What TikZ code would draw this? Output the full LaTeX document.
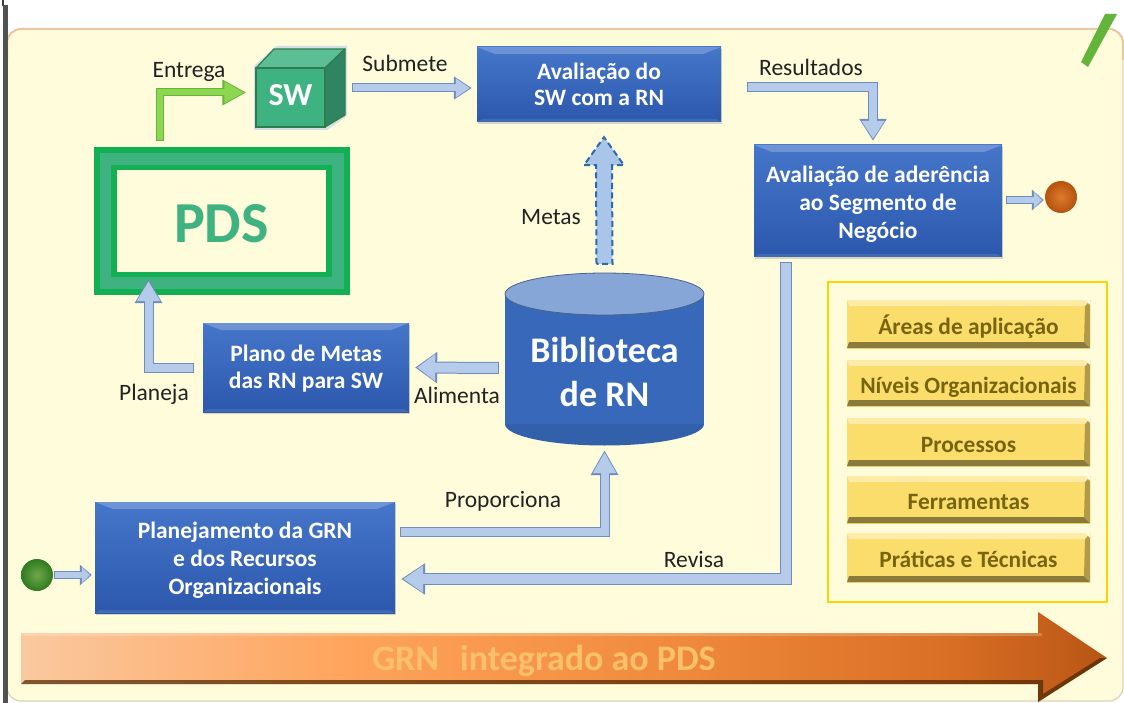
\documentclass[tikz,border=0pt]{standalone}
\usepackage{fontspec}
\setmainfont{Carlito}
\usetikzlibrary{arrows.meta,shadows,calc}
\definecolor{bgpale}{HTML}{FEFCDA}
\definecolor{bgedge}{HTML}{EBC6A0}
\definecolor{bgside}{HTML}{DCD3B0}
\definecolor{arrowfill}{HTML}{B6CBEA}
\definecolor{arrowedge}{HTML}{6C8EBF}
\definecolor{metaedge}{HTML}{2F6AA8}
\definecolor{metafill}{HTML}{A9C6EA}
\definecolor{greenfill}{HTML}{8CD650}
\definecolor{greenedge}{HTML}{62B53A}
\definecolor{pdsdark}{HTML}{12B052}
\definecolor{pdsmid}{HTML}{3FB281}
\definecolor{barfill}{HTML}{FBDD6C}
\definecolor{bartext}{HTML}{77640F}
\definecolor{labeltext}{HTML}{222222}
\definecolor{boxtop}{HTML}{4576CA}
\definecolor{boxbot}{HTML}{2C58AC}
\definecolor{cylbody}{HTML}{3768B9}
\definecolor{cyltop}{HTML}{87A6D8}
\definecolor{cubeline}{HTML}{2E7D4F}
\definecolor{grntext}{HTML}{FBC06A}
\definecolor{shA}{HTML}{FAC9A0}
\definecolor{shB}{HTML}{FFA45C}
\definecolor{shC}{HTML}{F08A3C}
\definecolor{shD}{HTML}{D86E24}
\definecolor{shE}{HTML}{B85515}
\pgfdeclarehorizontalshading{bigarrowshade}{100bp}{
  color(0bp)=(shA);color(25bp)=(shA);color(40bp)=(shB);
  color(55bp)=(shC);color(68bp)=(shD);color(75bp)=(shE);color(100bp)=(shE)}
\tikzset{
  lbl/.style={font=\fontsize{23.5}{28}\selectfont,text=labeltext,inner sep=0pt,text height=16pt,text depth=5pt},
  bluebox/.style={rectangle,inner sep=0pt,align=center,text=white,
    top color=boxtop,bottom color=boxbot,
    font=\bfseries\fontsize{23.5}{28}\selectfont,
    drop shadow={shadow xshift=1pt,shadow yshift=-2pt,opacity=.3},
    path picture={
      \fill[white,opacity=.22] (path picture bounding box.north west)--(path picture bounding box.north east)
        --++(-18,7)--($(path picture bounding box.north west)+(18,7)$)--cycle;
      \fill[white,opacity=.10] (path picture bounding box.south west)--(path picture bounding box.south east)
        --++(-5,-3)--($(path picture bounding box.south west)+(5,-3)$)--cycle;
    }},
  barbox/.style={rectangle,inner sep=0pt,minimum width=243pt,text=bartext,
    top color=barfill,bottom color=barfill,text height=26pt,text depth=6pt,
    font=\bfseries\fontsize{23.4}{27}\selectfont,
    path picture={
      \fill[black!45!barfill] (path picture bounding box.south west)--(path picture bounding box.south east)
        --++(-6,-6)--($(path picture bounding box.south west)+(2,-6)$)--cycle;
      \fill[black!30!barfill] (path picture bounding box.south east)--(path picture bounding box.north east)
        --++(-5,6)--($(path picture bounding box.south east)+(-6,-6)$)--cycle;
      \fill[white!40!barfill] (path picture bounding box.north west)--(path picture bounding box.north east)
        --++(-5,6)--($(path picture bounding box.north west)+(2,6)$)--cycle;
      \fill[bgpale] (path picture bounding box.north east)--++(-5,0)--++(5,5)--cycle;
    }},
  ball/.style={circle,inner sep=0pt,minimum size=32pt},
}
\newcommand{\blockarrow}[6]{% edge, fill, body width, head length, head width, path
  \pgfmathsetmacro{\innerw}{#3-2}
  \pgfmathsetmacro{\innerl}{#4-4}
  \pgfmathsetmacro{\innerh}{#5-4}
  \draw[#1,line width=#3pt,line join=miter,-{Triangle[length=#4pt,width=#5pt]}] #6;
  \draw[#2,line width=\innerw pt,line join=miter,shorten <=1pt,shorten >=2pt,-{Triangle[length=\innerl pt,width=\innerh pt]}] #6;
}
\begin{document}
\begin{tikzpicture}[x=1pt,y=-1pt]
\useasboundingbox (0,0) rectangle (1124,703);
\fill[white] (0,0) rectangle (1124,703);
% page frame
\draw[bgside,fill=bgpale,line width=1.2pt,rounded corners=14pt] (7,29) -- (1123,29) -- (1123,701) -- (7,701) -- cycle;
\draw[bgedge,line width=2pt,rounded corners=14pt] (7,60) -- (7,29) -- (1123,29) -- (1123,60);
\fill[black!68] (3,5) rectangle (8,703);
\fill[black!75] (2,0) rectangle (4,6);
\fill[greenedge] (1081,62) -- (1088,67) -- (1117,14) -- (1105,14) -- cycle;

% PDS frame
\fill[pdsdark] (94,147) rectangle (350,295);
\fill[pdsmid] (100,153) rectangle (344,289);
\fill[pdsdark] (111,165) rectangle (332,277);
\node[rectangle,fill=bgpale,minimum width=209pt,minimum height=102pt,inner sep=0pt,text height=43pt,text depth=0pt,
      text=pdsmid,font=\bfseries\fontsize{58}{64}\selectfont] (pdsin) at (221.5,221) {PDS};

% SW cube
\fill[arrowfill!60!bgpale] (254,66) -- (276,46) -- (347,46) -- (347,116) -- (327,130) -- (254,130) -- cycle;
\draw[cubeline,fill=pdsmid!85!white,line width=1.2pt,line join=round] (256,68) -- (274,49) -- (345,49) -- (325,68) -- cycle;
\draw[cubeline,fill=pdsmid!75!black,line width=1.2pt,line join=round] (325,68) -- (345,49) -- (345,115) -- (325,127) -- cycle;
\node[rectangle,draw=cubeline,line width=1.2pt,fill=pdsmid,minimum width=69pt,minimum height=59pt,inner sep=0pt,text height=21pt,text depth=4pt,
      text=white,font=\bfseries\fontsize{32}{36}\selectfont] (sw) at (290.5,97.5) {SW};

% blue boxes
\node[bluebox,minimum width=244pt,minimum height=75pt,font=\bfseries\fontsize{23.5}{26}\selectfont] (aval) at (599,84.5)
  {Avaliação do\\SW com a RN};
\node[bluebox,minimum width=248pt,minimum height=112pt] (ader) at (878,201)
  {\rule{0pt}{22pt}Avaliação de aderência\\ao Segmento de\\Negócio};
\node[bluebox,minimum width=206pt,minimum height=89pt,font=\bfseries\fontsize{23.5}{27}\selectfont] (plano) at (306,367.5)
  {\rule{0pt}{18pt}Plano de Metas\\das RN para SW};
\node[bluebox,minimum width=300pt,minimum height=111pt] (plan) at (245,557.5)
  {\rule{0pt}{22pt}Planejamento da GRN\\e dos Recursos\\Organizacionais};

% cylinder
\fill[cylbody!92!black] (604.5,424) ellipse (99.5pt and 21.5pt);
\fill[cylbody] (505,294) rectangle (704,424);
\draw[arrowedge!70!black,fill=cyltop,line width=.8pt] (604.5,294) ellipse (99.5pt and 21pt);
\node[rectangle,minimum width=199pt,minimum height=148pt,inner sep=0pt,align=center,text=white,
      font=\bfseries\fontsize{36}{44}\selectfont] (bib) at (604.5,372) {Biblioteca\\de RN};

% yellow panel
\draw[yellow!70!orange,line width=2.5pt] (828,282) rectangle (1107,602);
\node[barbox,minimum height=48pt] (b1) at (968.5,324) {Áreas de aplicação};
\node[barbox,minimum height=46pt] (b2) at (968.5,383) {Níveis Organizacionais};
\node[barbox,minimum height=48pt] (b3) at (968.5,442) {Processos};
\node[barbox,minimum height=47pt] (b4) at (968.5,499.5) {Ferramentas};
\node[barbox,minimum height=49pt] (b5) at (968.5,557.5) {Práticas e Técnicas};

% balls
\definecolor{gbin}{HTML}{6FA84A}\definecolor{gbout}{HTML}{2F7A20}
\definecolor{obin}{HTML}{DC7A2C}\definecolor{obout}{HTML}{B5530F}
\node[ball,shade,inner color=gbin,outer color=gbout] (stb) at (37,575) {};
\node[ball,shade,inner color=obin,outer color=obout] (endb) at (1061,197) {};

% connectors
\blockarrow{greenedge}{greenfill}{8}{24}{24}{(160,141) |- ([shift={(-9,-5)}]sw.west)}
\blockarrow{arrowedge}{arrowfill}{9}{18}{22}{(352,88) -- ([shift={(-5,3.5)}]aval.west)}
\blockarrow{arrowedge}{arrowfill}{10}{22}{26}{([shift={(26,2.5)}]aval.east) -| ([shift={(-5,-4)}]ader.north)}
\blockarrow{arrowedge}{arrowfill}{8}{12}{20}{([shift={(4,-1)}]ader.east) -- ([shift={(-1,3)}]endb.west)}
\blockarrow{arrowedge}{arrowfill}{12}{22}{30}{([shift={(-6,-4)}]bib.west) -- ([shift={(6,0)}]plano.east)}
\blockarrow{arrowedge}{arrowfill}{10}{24}{26}{([shift={(-9,0)}]plano.west) -| ([shift={(-73,7)}]pdsin.south)}
\blockarrow{arrowedge}{arrowfill}{10}{25}{26}{([shift={(5,-25.5)}]plan.east) -| ([shift={(0,4)}]bib.south)}
\blockarrow{arrowedge}{arrowfill}{12}{24}{30}{([shift={(-92,5)}]ader.south) |- ([shift={(6,21.5)}]plan.east)}
\blockarrow{arrowedge}{arrowfill}{8}{12}{20}{([shift={(1,0)}]stb.east) -- ([shift={(-3,17.5)}]plan.west)}
% dashed Metas arrow
\coordinate (mb) at ([shift={(0,-34)}]bib.north);
\coordinate (mt) at ([shift={(5,15)}]aval.south);
\draw[metaedge,fill=metafill,line width=2pt,dash pattern=on 6pt off 3.5pt,line join=miter]
  ($(mb)+(-8,0)$) -- ($(mt)+(-8,28)$) -- ($(mt)+(-20,28)$) -- (mt) -- ($(mt)+(20,28)$) -- ($(mt)+(8,28)$) -- ($(mb)+(8,0)$) -- cycle;

% big arrow
\path[shading=bigarrowshade]
  (21,633) -- (1038,633) -- (1038,612) -- (1107,658) -- (1038,702) -- (1038,684) -- (21,684) -- cycle;
\fill[black!70!orange,opacity=.7] (21,684) -- (1038,684) -- (1038,702) -- (1107,658) -- (1100,658) -- (1043,694) -- (1043,680) -- (25,680) -- cycle;
\fill[white,opacity=.22] (21,633) -- (1042,633) -- (1042,636) -- (25,636) -- cycle;
\node[inner sep=0pt,text=grntext,font=\bfseries\fontsize{36}{40}\selectfont] (grn) at (544,661) {GRN\hspace{.35em} integrado ao PDS};

% labels
\node[lbl] (l1) at (189,72.5) {Entrega};
\node[lbl] (l2) at (405,66.5) {Submete};
\node[lbl] (l3) at (811,70.5) {Resultados};
\node[lbl] (l4) at (551,219.5) {Metas};
\node[lbl] (l5) at (457,397.5) {Alimenta};
\node[lbl] (l6) at (154,395) {Planeja};
\node[lbl] (l7) at (503,501.5) {Proporciona};
\node[lbl] (l8) at (694,561.5) {Revisa};
\end{tikzpicture}
\end{document}
